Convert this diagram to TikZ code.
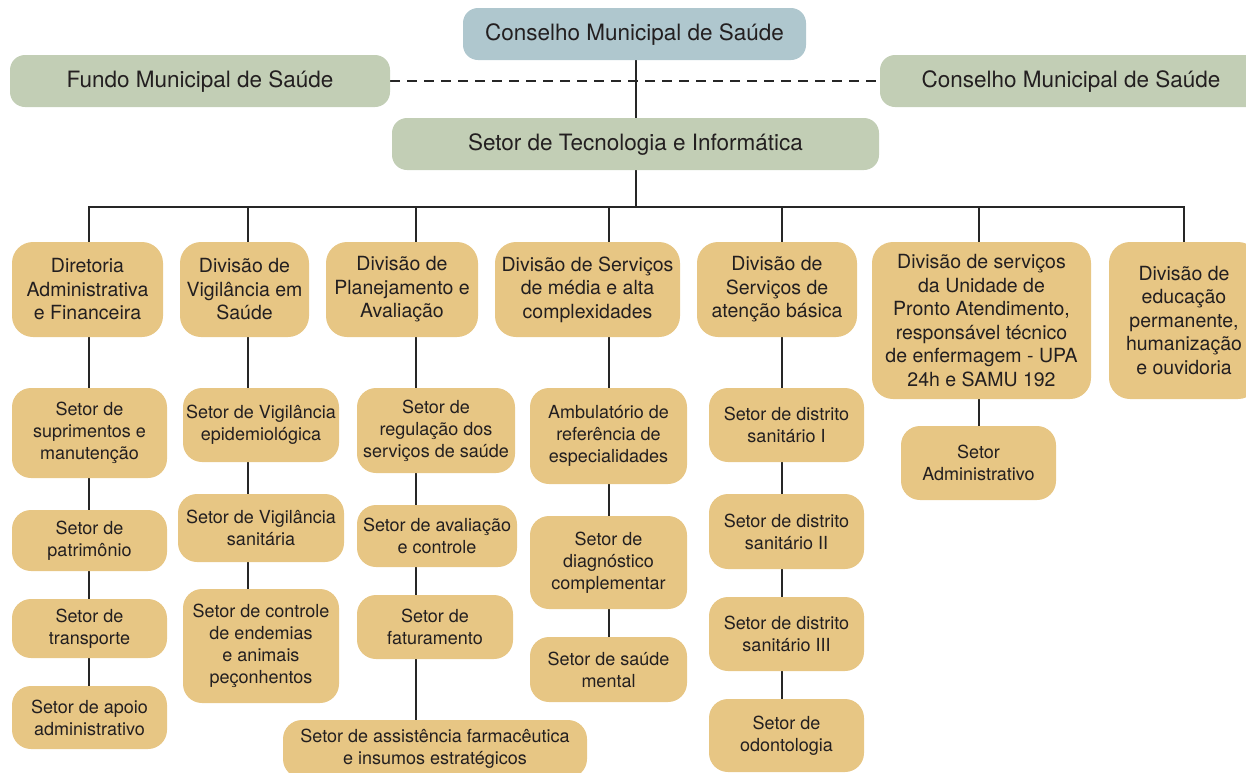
\documentclass[tikz,border=0pt]{standalone}
\usepackage{fontspec}
\setmainfont{TeX Gyre Heros}
\usetikzlibrary{backgrounds}
\definecolor{tanbox}{HTML}{E7C684}
\definecolor{sagebox}{HTML}{C2CEB5}
\definecolor{slatebox}{HTML}{AFC7CE}
\definecolor{ink}{HTML}{231F20}
\definecolor{wire}{HTML}{262626}

\begin{document}
\begin{tikzpicture}[x=1pt,y=-1pt,
  base/.style={inner sep=0pt, align=center, text=ink},
  headbox/.style={base, rounded corners=15pt, fill=sagebox,
    text height=16pt, text depth=4pt,
    font=\fontsize{22.5}{26}\selectfont},
  topbox/.style={headbox, fill=slatebox},
  divbox/.style={base, rounded corners=21pt, fill=tanbox,
    font=\fontsize{19.5}{23.5}\selectfont},
  secbox/.style={base, rounded corners=19pt, fill=tanbox,
    font=\fontsize{18}{22}\selectfont},
  wh/.style 2 args={minimum width=#1pt, minimum height=#2pt},
  link/.style={draw=wire, line width=2.3pt},
  dashlink/.style={link, dash pattern=on 10pt off 7pt}
]
\useasboundingbox (0,0) rectangle (1246,772);
\clip (0,0) rectangle (1246,772);

% --- top level ---
\node[topbox, wh={343}{52}] (cms) at (634.5,34) {Conselho Municipal de Saúde};
\node[headbox, wh={380}{52}] (fundo) at (200,81) {Fundo Municipal de Saúde};
\node[headbox, wh={382}{52}] (cmsr) at (1071,81) {Conselho Municipal de Saúde};
\node[headbox, wh={487}{52}] (tec) at (635.5,144) {Setor de Tecnologia e Informática};

% --- divisions ---
\node[divbox, wh={151}{95}] (d1) at (87.5,289.5) {Diretoria\\Administrativa\\e Financeira};
\node[divbox, wh={129}{95}] (d2) at (244.5,289.5) {Divisão de\\Vigilância em\\Saúde};
\node[divbox, wh={152}{95}] (d3) at (402,289.5) {Divisão de\\Planejamento e\\Avaliação};
\node[divbox, wh={185}{95}] (d4) at (587.5,289.5) {Divisão de Serviços\\de média e alta\\complexidades};
\node[divbox, wh={160}{95}] (d5) at (777,289.5) {Divisão de\\Serviços de\\atenção básica};
\node[divbox, wh={219}{157}] (d6) at (981.5,320.5) {Divisão de serviços\\da Unidade de\\Pronto Atendimento,\\responsável técnico\\de enfermagem - UPA\\24h e SAMU 192};
\node[divbox, wh={150}{157}] (d7) at (1184,320.5) {Divisão de\\educação\\permanente,\\humanização\\e ouvidoria};

% --- sectors: column 1 ---
\node[secbox, wh={155}{90}] (s11) at (89.5,433) {Setor de\\suprimentos e\\manutenção};
\node[secbox, wh={155}{61}] (s12) at (89.5,540.5) {Setor de\\patrimônio};
\node[secbox, wh={155}{59}] (s13) at (89.5,628.5) {Setor de\\transporte};
\node[secbox, wh={155}{63}] (s14) at (89.5,717.5) {Setor de apoio\\administrativo};

% --- column 2 ---
\node[secbox, wh={156}{74}] (s21) at (261,425) {Setor de Vigilância\\epidemiológica};
\node[secbox, wh={166}{68}] (s22) at (261,528) {Setor de Vigilância\\sanitária};
\node[secbox, wh={156}{114}] (s23) at (261,646) {Setor de controle\\de endemias\\e animais\\peçonhentos};

% --- column 3 ---
\node[secbox, wh={158}{85}] (s31) at (436,430.5) {Setor de\\regulação dos\\serviços de saúde};
\node[secbox, wh={160}{62}] (s32) at (437,536) {Setor de avaliação\\e controle};
\node[secbox, wh={156}{64}] (s33) at (435,627) {Setor de\\faturamento};
\node[secbox, wh={304}{58}] (s34) at (435,749) {Setor de assistência farmacêutica\\e insumos estratégicos};

% --- column 4 ---
\node[secbox, wh={157}{96}] (s41) at (608.5,436) {Ambulatório de\\referência de\\especialidades};
\node[secbox, wh={157}{93}] (s42) at (608.5,562.5) {Setor de\\diagnóstico\\complementar};
\node[secbox, wh={157}{65}] (s43) at (608.5,669.5) {Setor de saúde\\mental};

% --- column 5 ---
\node[secbox, wh={155}{74}] (s51) at (786.5,425) {Setor de distrito\\sanitário I};
\node[secbox, wh={155}{75}] (s52) at (786.5,531.5) {Setor de distrito\\sanitário II};
\node[secbox, wh={155}{74}] (s53) at (786.5,634) {Setor de distrito\\sanitário III};
\node[secbox, wh={155}{73}] (s54) at (786.5,735.5) {Setor de\\odontologia};

% --- column 6 ---
\node[secbox, wh={155}{74}] (s61) at (978.5,463) {Setor\\Administrativo};

% --- bus and drop points ---
\coordinate (hub) at (636,207);
\coordinate (busL) at (89,207);
\coordinate (busR) at (1184,207);
\coordinate (x1) at (89,207);
\coordinate (x2) at (248,207);
\coordinate (x3) at (416,207);
\coordinate (x4) at (609,207);
\coordinate (x5) at (782,207);
\coordinate (x6) at (979,207);
\coordinate (x7) at (1184,207);

\begin{scope}[on background layer]
  % spine from the council down to the bus
  \draw[link] (cms.south -| hub) -- (hub);
  \draw[dashlink] (fundo.east) -- (cmsr.west);
  \draw[link, line cap=rect] (busL) -- (busR);
  % drops to the divisions
  \foreach \i in {1,...,7} \draw[link] (x\i) -- (x\i |- d\i.north);
  % column spines
  \draw[link] (x1 |- d1.south) -- (x1 |- s14.north);
  \draw[link] (x2 |- d2.south) -- (x2 |- s23.north);
  \draw[link] (x3 |- d3.south) -- (x3 |- s34.north);
  \draw[link] (x4 |- d4.south) -- (x4 |- s43.north);
  \draw[link] (x5 |- d5.south) -- (x5 |- s54.north);
  \draw[link] (x6 |- d6.south) -- (x6 |- s61.north);
\end{scope}
\end{tikzpicture}
\end{document}
